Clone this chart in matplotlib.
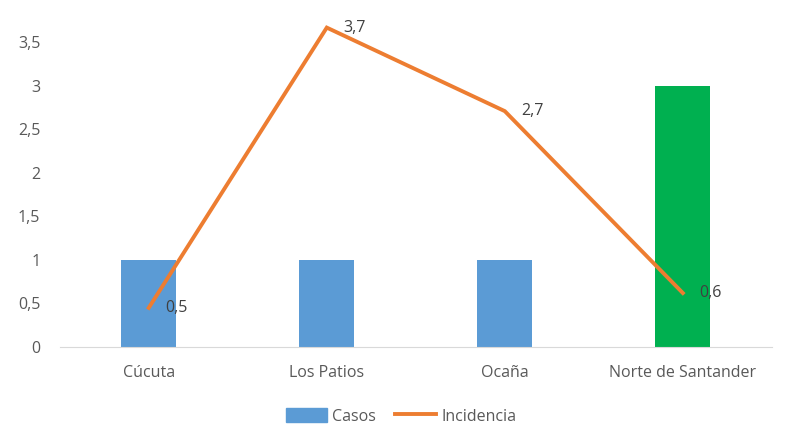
import numpy as np
import matplotlib.pyplot as plt
from matplotlib.patches import Patch
from matplotlib.lines import Line2D

# Data
categorias = ['Cúcuta', 'Los Patios', 'Ocaña', 'Norte de Santander']
casos = [1, 1, 1, 3]
incidencia = [0.45, 3.67, 2.71, 0.62]
etiquetas_inc = ['0,5', '3,7', '2,7', '0,6']
y_ticks = [0, 0.5, 1, 1.5, 2, 2.5, 3, 3.5]
y_tick_labels = ['0', '0,5', '1', '1,5', '2', '2,5', '3', '3,5']

plt.rcParams['font.family'] = ['Open Sans', 'DejaVu Sans']
plt.rcParams['font.size'] = 11.5

azul = '#5B9BD5'
verde = '#00B050'
naranja = '#ED7D31'
gris = '#595959'

fig = plt.figure(figsize=(7.86, 4.44), dpi=100)
ax = fig.add_axes([0.076, 0.2185, 0.906, 0.784])

x = np.arange(len(categorias))
colores = [azul, azul, azul, verde]
ax.bar(x, casos, width=0.31, color=colores, zorder=2)
ax.plot(x, incidencia, color=naranja, lw=2.8, zorder=3, solid_joinstyle='miter')

for xi, yi, txt in zip(x, incidencia, etiquetas_inc):
    ax.annotate(txt, (xi, yi), xytext=(12, 0), textcoords='offset points',
                ha='left', va='center', color='#404040', fontsize=11.5, zorder=4)

ax.set_xlim(-0.5, 3.5)
ax.set_ylim(0, 4)
ax.set_xticks(x)
ax.set_xticklabels(categorias, color=gris)
ax.set_yticks(y_ticks)
ax.set_yticklabels(y_tick_labels, color=gris)
ax.tick_params(length=0, pad=13)
ax.tick_params(axis='y', pad=14)
for s in ['top', 'right', 'left']:
    ax.spines[s].set_visible(False)
ax.spines['bottom'].set_color('#D9D9D9')

# Legend
handles = [Patch(color=azul, label='Casos'),
           Line2D([0], [0], color=naranja, lw=2.8, label='Incidencia')]
fig.legend(handles=handles, loc='center', bbox_to_anchor=(0.51, 0.062), ncol=2,
           frameon=False, handlelength=2.6, handleheight=1.0, handletextpad=0.3,
           columnspacing=1.2, labelcolor=gris)

fig.savefig('out.png', dpi=100)
